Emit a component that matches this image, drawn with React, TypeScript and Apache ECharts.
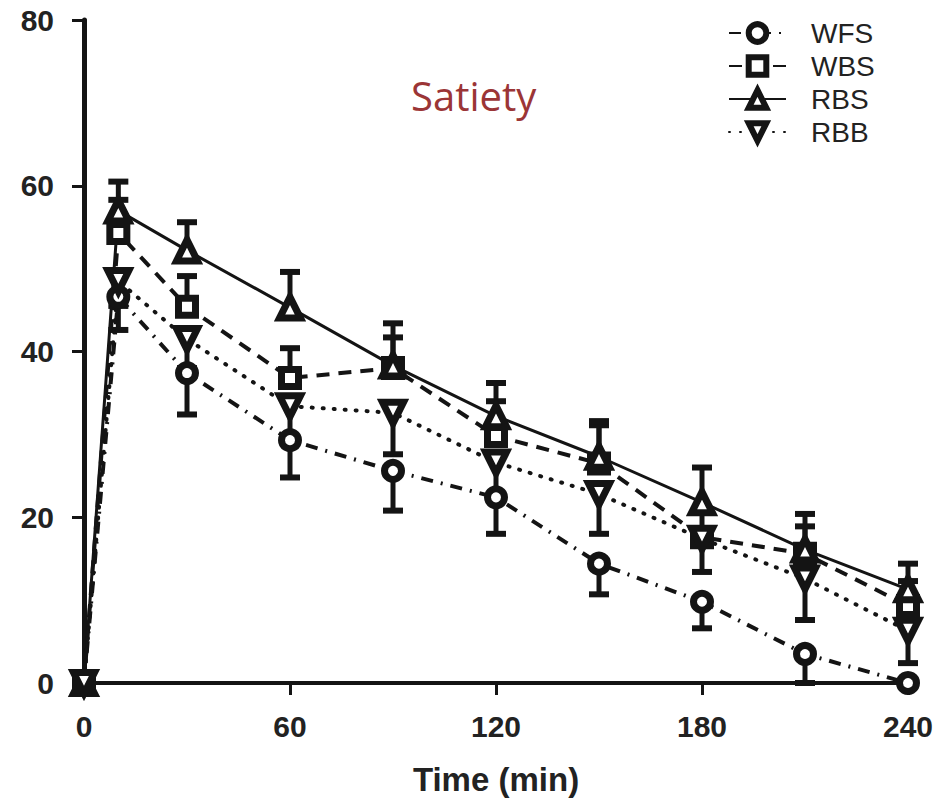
import React, { useEffect, useRef } from "react";
import * as echarts from "echarts";

const times = [0, 10, 30, 60, 90, 120, 150, 180, 210, 240];
const xTicks = [0, 60, 120, 180, 240];
const yTicks = [0, 20, 40, 60, 80];

const WFS = [0, 46.6, 37.4, 29.3, 25.6, 22.4, 14.4, 9.8, 3.5, 0];
const WFS_err = [0, 4, 5, 4.5, 4.8, 4.4, 3.7, 3.2, 3.5, 0];
const WBS = [0, 54.3, 45.4, 36.8, 38.0, 29.8, 26.5, 17.6, 15.6, 9.3];
const WBS_err = [0, 4, 3.7, 3.6, 3.7, 4.2, 4.6, 3.5, 3.3, 3];
const RBS = [0, 57, 52.2, 45.3, 38.3, 32.2, 27.3, 21.8, 16.1, 11.3];
const RBS_err = [0, 3.5, 3.4, 4.3, 5.1, 4, 4.3, 4.2, 4.3, 3.1];
const RBB = [0, 48.5, 41.5, 33.4, 32.6, 26.6, 22.8, 17.4, 12.6, 6.3];
const RBB_err = [0, 3, 3.5, 4, 5, 4, 4.8, 4, 5, 3.9];

const INK = "#141414";
const AXIS_FONT = "Liberation Sans";

function errSeries(name: string, vals: number[], errs: number[], dir: number) {
  return {
    type: "custom",
    name: name + " err",
    z: 1,
    silent: true,
    clip: false,
    data: times.map((t, i) => [t, vals[i], errs[i]]).filter((d) => d[2] > 0),
    encode: { x: 0, y: 1 },
    renderItem: (_params: any, api: any) => {
      const x = api.value(0);
      const y = api.value(1);
      const e = api.value(2);
      const p0 = api.coord([x, y]);
      const p1 = api.coord([x, y + dir * e]);
      const hw = 10;
      return {
        type: "group",
        children: [
          {
            type: "line",
            shape: { x1: p0[0], y1: p0[1], x2: p1[0], y2: p1[1] },
            style: { stroke: INK, lineWidth: 5 },
          },
          {
            type: "line",
            shape: { x1: p1[0] - hw, y1: p1[1], x2: p1[0] + hw, y2: p1[1] },
            style: { stroke: INK, lineWidth: 6 },
          },
        ],
      };
    },
  };
}

function lineSeries(
  name: string,
  vals: number[],
  symbol: string,
  size: number,
  lineType: any,
  width: number,
  cap: string
) {
  return {
    type: "line",
    name,
    z: 3,
    clip: false,
    data: times.map((t, i) => [t, vals[i]]),
    symbol,
    symbolSize: size,
    showAllSymbol: true,
    lineStyle: { color: INK, width, type: lineType, cap },
    itemStyle: { color: "#ffffff", borderColor: INK, borderWidth: 7 },
  };
}

export default function App() {
  const ref = useRef<HTMLDivElement>(null);
  useEffect(() => {
    const chart = echarts.init(ref.current!, null, { renderer: "svg" });
    const axisLabel = {
      fontFamily: AXIS_FONT,
      fontWeight: "bold",
      fontSize: 30,
      color: "#222",
    };
    chart.setOption({
      animation: false,
      backgroundColor: "#ffffff",
      grid: { left: 84, right: 32, top: 20, bottom: 114 },
      xAxis: {
        type: "value",
        min: xTicks[0],
        max: xTicks[xTicks.length - 1],
        interval: 60,
        name: "Time (min)",
        nameLocation: "middle",
        nameGap: 80,
        nameTextStyle: {
          fontFamily: AXIS_FONT,
          fontWeight: "bold",
          fontSize: 33,
          color: "#222",
        },
        axisLine: { show: true, lineStyle: { color: INK, width: 4 } },
        axisTick: { show: true, inside: false, length: 12, lineStyle: { color: INK, width: 3 } },
        axisLabel: { ...axisLabel, margin: 28 },
        splitLine: { show: false },
      },
      yAxis: {
        type: "value",
        min: yTicks[0],
        max: yTicks[yTicks.length - 1],
        interval: 20,
        axisLine: { show: true, lineStyle: { color: INK, width: 5 } },
        axisTick: { show: true, inside: false, length: 12, lineStyle: { color: INK, width: 3 } },
        axisLabel: { ...axisLabel, margin: 30 },
        splitLine: { show: false },
      },
      legend: {
        orient: "vertical",
        left: 723,
        top: 14,
        itemWidth: 57,
        itemHeight: 22,
        itemGap: 5,
        data: ["WFS", "WBS", "RBS", "RBB"],
        itemStyle: { color: "#ffffff", borderColor: INK, borderWidth: 6 },
        textStyle: {
          fontFamily: AXIS_FONT,
          fontSize: 28,
          color: "#222",
          padding: [0, 0, 0, 20],
        },
      },
      graphic: [
        {
          type: "text",
          x: 411,
          y: 95,
          style: {
            text: "Satiety",
            fontFamily: "Open Sans",
            fontSize: 40,
            fill: "#9b3536",
            verticalAlign: "middle",
            align: "left",
          },
        },
      ],
      series: [
        errSeries("WFS", WFS, WFS_err, -1),
        errSeries("WBS", WBS, WBS_err, 1),
        errSeries("RBS", RBS, RBS_err, 1),
        errSeries("RBB", RBB, RBB_err, -1),
        lineSeries("WFS", WFS, "circle", 17, [12, 8, 2, 8], 4, "butt"),
        lineSeries("WBS", WBS, "rect", 17, [13, 9], 4, "butt"),
        lineSeries("RBS", RBS, "triangle", 21, "solid", 3, "butt"),
        lineSeries("RBB", RBB, "path://M0,0 L10,0 L5,9 Z", 21, [1, 10], 4, "round"),
      ],
    });
    return () => chart.dispose();
  }, []);
  return (
    <div
      ref={ref}
      style={{ position: "fixed", left: 0, top: 0, width: 940, height: 801 }}
    />
  );
}
